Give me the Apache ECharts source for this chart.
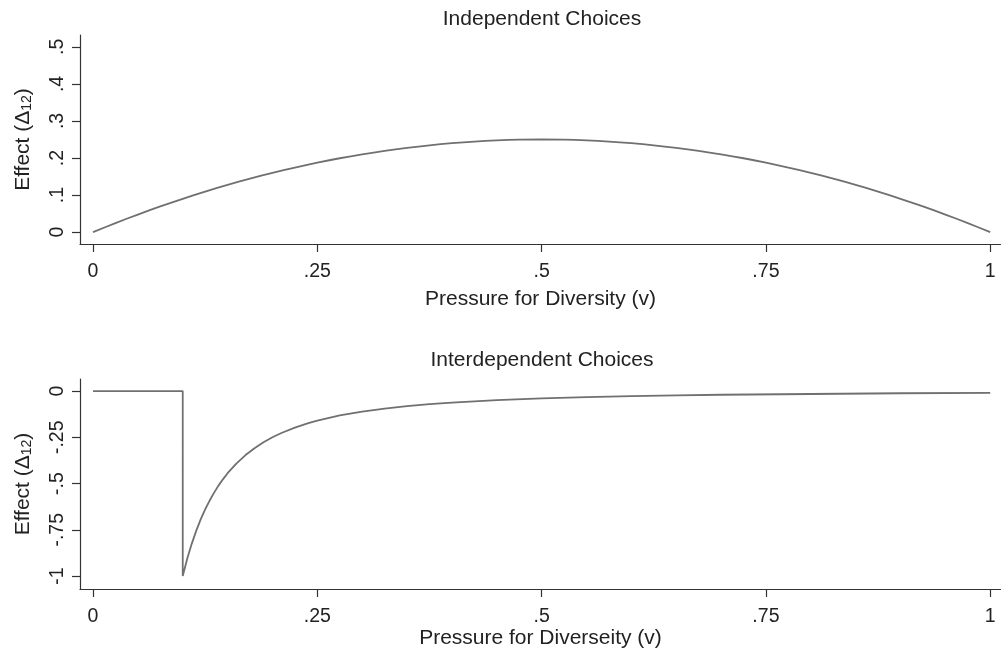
<!DOCTYPE html>
<html>
<head>
<meta charset="utf-8">
<title>Effect of Pressure for Diversity</title>
<script src="https://cdn.jsdelivr.net/npm/echarts@6/dist/echarts.min.js"></script>
<style>
  html, body { margin: 0; padding: 0; background: #fff; }
  #chart { width: 1001px; height: 657px; }
</style>
</head>
<body>
<div id="chart"></div>
<script>
// Independent choices: effect against pressure for diversity
const vTop = [0, 0.025, 0.05, 0.075, 0.1, 0.125, 0.15, 0.175, 0.2, 0.225, 0.25,
  0.275, 0.3, 0.325, 0.35, 0.375, 0.4, 0.425, 0.45, 0.475, 0.5,
  0.525, 0.55, 0.575, 0.6, 0.625, 0.65, 0.675, 0.7, 0.725, 0.75,
  0.775, 0.8, 0.825, 0.85, 0.875, 0.9, 0.925, 0.95, 0.975, 1];
const effectTop = [0, 0.0244, 0.0475, 0.0694, 0.09, 0.1094, 0.1275, 0.1444, 0.16, 0.1744, 0.1875,
  0.1994, 0.21, 0.2194, 0.2275, 0.2344, 0.24, 0.2444, 0.2475, 0.2494, 0.25,
  0.2494, 0.2475, 0.2444, 0.24, 0.2344, 0.2275, 0.2194, 0.21, 0.1994, 0.1875,
  0.1744, 0.16, 0.1444, 0.1275, 0.1094, 0.09, 0.0694, 0.0475, 0.0244, 0];

// Interdependent choices: flat at zero, sharp drop at v = .1, then recovery
const vBottom = [0, 0.1, 0.1, 0.105, 0.11, 0.115, 0.12, 0.125, 0.13, 0.135, 0.14, 0.145, 0.15,
  0.16, 0.17, 0.18, 0.19, 0.2, 0.21, 0.225, 0.24, 0.25, 0.275, 0.3, 0.325, 0.35, 0.375, 0.4,
  0.45, 0.5, 0.55, 0.6, 0.65, 0.7, 0.8, 0.9, 1];
const effectBottom = [0, 0, -1, -0.907, -0.826, -0.756, -0.694, -0.64, -0.592, -0.549, -0.51, -0.476, -0.444,
  -0.391, -0.346, -0.309, -0.277, -0.25, -0.227, -0.198, -0.174, -0.16, -0.132, -0.111, -0.095, -0.082, -0.071, -0.0625,
  -0.049, -0.04, -0.033, -0.028, -0.024, -0.02, -0.016, -0.012, -0.01];

// Tick positions
const xTicks = [0, 0.25, 0.5, 0.75, 1];
const yTicksTop = [0, 0.1, 0.2, 0.3, 0.4, 0.5];
const yTicksBottom = [-1, -0.75, -0.5, -0.25, 0];

const titles = ['Independent Choices', 'Interdependent Choices'];
const xNames = ['Pressure for Diversity (v)', 'Pressure for Diverseity (v)'];

const FONT = '"Liberation Sans", Arial, Helvetica, sans-serif';
const INK = '#222222';
const LINE = '#707070';

// Stata-style numbers: drop the leading zero (".25", "-.5")
function fmt(v) {
  const r = Math.round(v * 1000) / 1000;
  let s = String(r);
  if (s.startsWith('0.')) s = s.slice(1);
  else if (s.startsWith('-0.')) s = '-' + s.slice(2);
  return s;
}

function pairs(xs, ys) {
  return xs.map((x, i) => [x, ys[i]]);
}

function xAxis(gridIndex, name, nameGap) {
  return {
    type: 'value', gridIndex: gridIndex,
    min: -0.0145, max: 1.012,
    name: name, nameLocation: 'middle', nameGap: nameGap,
    nameTextStyle: { fontFamily: FONT, fontSize: 21, color: INK },
    axisLine: { show: true, onZero: false, lineStyle: { color: '#333', width: 1.2 } },
    axisTick: { show: true, length: 8, customValues: xTicks, lineStyle: { color: '#333', width: 1.2 } },
    axisLabel: { customValues: xTicks, formatter: fmt, margin: 18,
      fontFamily: FONT, fontSize: 19.5, color: INK },
    splitLine: { show: false }
  };
}

function yAxis(gridIndex, min, max, ticks) {
  return {
    type: 'value', gridIndex: gridIndex,
    min: min, max: max,
    name: '{m|Effect (Δ}{s|12}{m|)}', nameLocation: 'middle', nameGap: 46, nameRotate: 90,
    nameTextStyle: {
      fontFamily: FONT, fontSize: 21, color: INK,
      rich: {
        m: { fontFamily: FONT, fontSize: 21, color: INK },
        s: { fontFamily: FONT, fontSize: 14, color: INK, verticalAlign: 'bottom', padding: [8, 0, 0, 0] }
      }
    },
    axisLine: { show: true, onZero: false, lineStyle: { color: '#333', width: 1.2 } },
    axisTick: { show: true, length: 8, customValues: ticks, lineStyle: { color: '#333', width: 1.2 } },
    axisLabel: { customValues: ticks, formatter: fmt, rotate: 90, margin: 12,
      fontFamily: FONT, fontSize: 19.5, color: INK },
    splitLine: { show: false }
  };
}

const chart = echarts.init(document.getElementById('chart'), null, { renderer: 'canvas' });

chart.setOption({
  animation: false,
  backgroundColor: '#ffffff',
  title: [
    { text: titles[0], left: 537, top: 4, textAlign: 'center',
      textStyle: { fontFamily: FONT, fontSize: 21, fontWeight: 'normal', color: INK } },
    { text: titles[1], left: 537, top: 345, textAlign: 'center',
      textStyle: { fontFamily: FONT, fontSize: 21, fontWeight: 'normal', color: INK } }
  ],
  grid: [
    { left: 80, right: 0, top: 35, height: 209 },
    { left: 80, right: 0, top: 379, height: 210 }
  ],
  xAxis: [xAxis(0, xNames[0], 45), xAxis(1, xNames[1], 38)],
  yAxis: [
    yAxis(0, -0.032, 0.532, yTicksTop),
    yAxis(1, -1.07, 0.065, yTicksBottom)
  ],
  series: [
    { type: 'line', xAxisIndex: 0, yAxisIndex: 0, data: pairs(vTop, effectTop),
      showSymbol: false, smooth: 0.3, lineStyle: { color: LINE, width: 1.8 } },
    { type: 'line', xAxisIndex: 1, yAxisIndex: 1, data: pairs(vBottom, effectBottom),
      showSymbol: false, lineStyle: { color: LINE, width: 1.8 } }
  ]
});
</script>
</body>
</html>
